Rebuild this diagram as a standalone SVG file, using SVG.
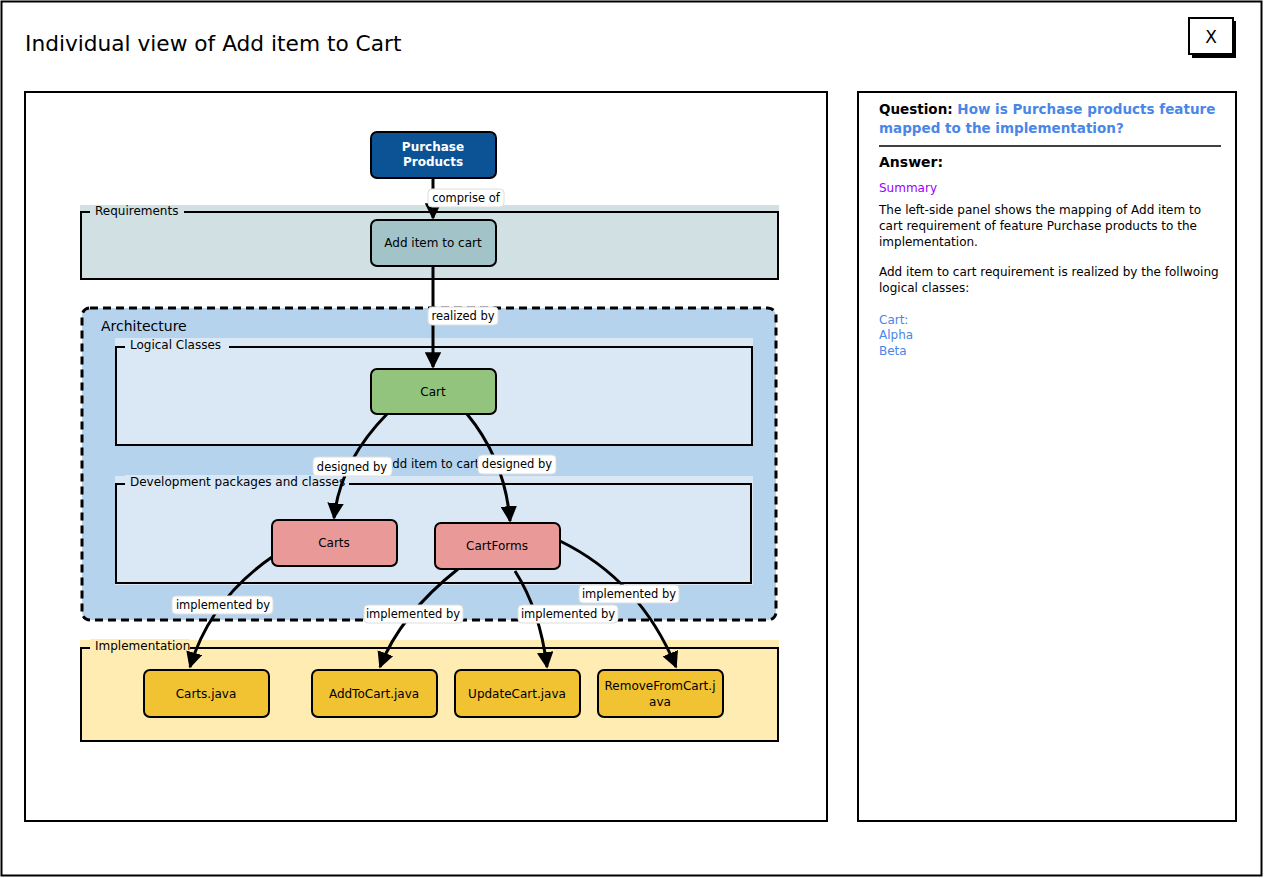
<svg xmlns="http://www.w3.org/2000/svg" width="1265" height="878" viewBox="0 0 1265 878">
<style>
text{font-family:"DejaVu Sans","Liberation Sans",Arial,sans-serif;fill:#000}
.frame{fill:none;stroke:#000;stroke-width:2}
.node{stroke:#000;stroke-width:2}
.nt{font-size:12px;text-anchor:middle}
.lbl{fill:#fff;stroke:#ddd;stroke-width:1}
.lt{font-size:11.5px;text-anchor:middle}
.edge{fill:none;stroke:#000;stroke-width:3}
.ct{font-size:12px}
.pt{font-size:12px}
.blue{fill:#4a86e8}
</style>
<defs>
<marker id="arr" viewBox="0 0 10 10" refX="9" refY="5" markerWidth="5.5" markerHeight="5.5" orient="auto" markerUnits="strokeWidth">
<path d="M0,0 L10,5 L0,10 z" fill="#000"/>
</marker>
</defs>
<rect x="0" y="0" width="1265" height="878" fill="#fff"/>
<rect x="1.5" y="1.5" width="1260" height="874" class="frame"/>
<text x="25" y="51" style="font-size:21.7px">Individual view of Add item to Cart</text>
<g id="close">
<rect x="1192" y="21" width="44" height="37" fill="#000"/>
<rect x="1189" y="18" width="44" height="36" fill="#fff" stroke="#000" stroke-width="2"/>
<text x="1211" y="43" style="font-size:17px;text-anchor:middle">X</text>
</g>
<rect x="25" y="92" width="802" height="729" class="frame" fill="#fff"/>
<rect x="858" y="92" width="378" height="729" class="frame" fill="#fff"/>

<g id="requirements">
<rect x="80" y="205" width="699" height="75" fill="#d0e0e3"/>
<rect x="81" y="212" width="697" height="67" class="frame"/>
<rect x="90" y="205" width="94" height="12" fill="#d0e0e3"/>
<text x="95" y="215" class="ct">Requirements</text>
</g>
<g id="architecture">
<rect x="82" y="308" width="694" height="312" rx="8" fill="#b6d3ed" stroke="#000" stroke-width="3" stroke-dasharray="8,5"/>
<text x="101" y="331" style="font-size:14px">Architecture</text>
</g>
<g id="logical-classes">
<rect x="115" y="338" width="638" height="108" fill="#dae8f6"/>
<rect x="116" y="347" width="636" height="98" class="frame"/>
<rect x="125" y="338" width="104" height="12" fill="#dae8f6"/>
<text x="130" y="349" class="ct">Logical Classes</text>
</g>
<g id="dev-packages">
<rect x="115" y="476" width="638" height="109" fill="#dae8f6"/>
<rect x="116" y="484" width="635" height="99" class="frame"/>
<rect x="125" y="475" width="224" height="12" fill="#dae8f6"/>
<text x="130" y="486" class="ct">Development packages and classes</text>
</g>
<g id="implementation">
<rect x="80" y="640" width="699" height="102" fill="#ffecb3"/>
<rect x="81" y="648" width="697" height="93" class="frame"/>
<rect x="90" y="639" width="100" height="12" fill="#ffecb3"/>
<text x="95" y="650" class="ct">Implementation</text>
</g>
<text x="432" y="468" style="font-size:11.7px;text-anchor:middle">Add item to cart</text>

<g id="connectors">
<path d="M433,178 L433,218" class="edge" marker-end="url(#arr)"/>
<path d="M433,266 L433,367" class="edge" marker-end="url(#arr)"/>
<path d="M387,414 Q340,462 334,518" class="edge" marker-end="url(#arr)"/>
<path d="M467,414 Q505,460 510,521" class="edge" marker-end="url(#arr)"/>
<path d="M272,557 Q210,600 190,667" class="edge" marker-end="url(#arr)"/>
<path d="M458,569 Q400,615 380,667" class="edge" marker-end="url(#arr)"/>
<path d="M515,571 Q540,610 547,667" class="edge" marker-end="url(#arr)"/>
<path d="M560,541 Q640,580 676,667" class="edge" marker-end="url(#arr)"/>
<rect x="428" y="189" width="76" height="18" rx="4" class="lbl"/>
<text x="466" y="202" class="lt">comprise of</text>
<rect x="428" y="307" width="70" height="18" rx="4" class="lbl"/>
<text x="463" y="320" class="lt">realized by</text>
<rect x="313" y="457" width="79" height="19" rx="4" class="lbl"/>
<text x="352" y="471" class="lt">designed by</text>
<rect x="478" y="455" width="78" height="19" rx="4" class="lbl"/>
<text x="517" y="468" class="lt">designed by</text>
<rect x="172" y="596" width="101" height="18" rx="4" class="lbl"/>
<text x="223" y="609" class="lt">implemented by</text>
<rect x="364" y="605" width="99" height="18" rx="4" class="lbl"/>
<text x="413" y="618" class="lt">implemented by</text>
<rect x="518" y="605" width="100" height="18" rx="4" class="lbl"/>
<text x="568" y="618" class="lt">implemented by</text>
<rect x="579" y="585" width="100" height="18" rx="4" class="lbl"/>
<text x="629" y="598" class="lt">implemented by</text>
</g>

<g id="purchase-products">
<rect x="371" y="132" width="125" height="46" rx="6" fill="#0b5394" class="node"/>
<text x="433" y="151" class="nt" style="fill:#fff;font-weight:bold">Purchase</text>
<text x="433" y="166" class="nt" style="fill:#fff;font-weight:bold">Products</text>
</g>
<g id="add-item-to-cart">
<rect x="371" y="220" width="125" height="46" rx="6" fill="#a2c4c9" class="node"/>
<text x="433" y="247" class="nt">Add item to cart</text>
</g>
<g id="cart">
<rect x="371" y="369" width="125" height="45" rx="6" fill="#93c47d" class="node"/>
<text x="433" y="396" class="nt">Cart</text>
</g>
<g id="carts">
<rect x="272" y="520" width="125" height="46" rx="6" fill="#ea9999" class="node"/>
<text x="334" y="547" class="nt">Carts</text>
</g>
<g id="cartforms">
<rect x="435" y="523" width="125" height="46" rx="6" fill="#ea9999" class="node"/>
<text x="497" y="550" class="nt">CartForms</text>
</g>
<g id="carts-java">
<rect x="144" y="670" width="125" height="47" rx="6" fill="#f1c232" class="node"/>
<text x="206" y="698" class="nt">Carts.java</text>
</g>
<g id="addtocart-java">
<rect x="312" y="670" width="125" height="47" rx="6" fill="#f1c232" class="node"/>
<text x="374" y="698" class="nt">AddToCart.java</text>
</g>
<g id="updatecart-java">
<rect x="455" y="670" width="125" height="47" rx="6" fill="#f1c232" class="node"/>
<text x="517" y="698" class="nt">UpdateCart.java</text>
</g>
<g id="removefromcart-java">
<rect x="598" y="670" width="125" height="47" rx="6" fill="#f1c232" class="node"/>
<text x="660" y="690" class="nt">RemoveFromCart.j</text>
<text x="660" y="706" class="nt">ava</text>
</g>

<g id="qa-panel">
<text x="879" y="114" style="font-size:13.5px;font-weight:bold">Question: <tspan style="fill:#4a86e8">How is Purchase products feature</tspan></text>
<text x="879" y="133" style="font-size:13.5px;font-weight:bold;fill:#4a86e8">mapped to the implementation?</text>
<line x1="879" y1="146" x2="1221" y2="146" stroke="#000" stroke-width="1.5"/>
<text x="879" y="167" style="font-size:14px;font-weight:bold">Answer:</text>
<text x="879" y="192" style="font-size:12px;fill:#9900ff">Summary</text>
<text x="879" y="214" class="pt">The left-side panel shows the mapping of Add item to</text>
<text x="879" y="230" class="pt">cart requirement of feature Purchase products to the</text>
<text x="879" y="246" class="pt">implementation.</text>
<text x="879" y="276" class="pt">Add item to cart requirement is realized by the follwoing</text>
<text x="879" y="292" class="pt">logical classes:</text>
<text x="879" y="324" class="pt blue">Cart:</text>
<text x="879" y="339" class="pt blue">Alpha</text>
<text x="879" y="355" class="pt blue">Beta</text>
</g>
</svg>
